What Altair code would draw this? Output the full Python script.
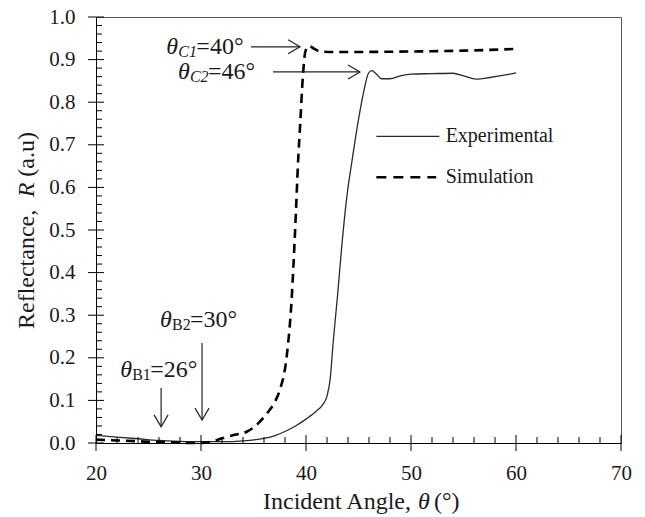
import altair as alt
import pandas as pd

# ---------------- data ----------------
exp_x = [20, 22, 24, 26, 28, 30, 32, 34, 36, 37, 38, 39, 40, 41, 41.6, 42.0, 42.3, 42.6,
         43.0, 43.4, 43.9, 44.4, 44.9, 45.5, 45.95, 46.25, 46.7, 47.2, 48.0, 49.0, 50.0,
         52.0, 54.0, 55.0, 56.2, 57.5, 59.0, 60.0]
exp_y = [0.018, 0.014, 0.010, 0.006, 0.004, 0.003, 0.003, 0.005, 0.011, 0.017, 0.027, 0.040,
         0.056, 0.075, 0.090, 0.110, 0.150, 0.240, 0.345, 0.460, 0.580, 0.665, 0.745, 0.825,
         0.868, 0.874, 0.866, 0.855, 0.855, 0.862, 0.866, 0.867, 0.868, 0.862, 0.854, 0.858,
         0.864, 0.869]

sim_x = [20, 22, 24, 26, 28, 29, 30, 31, 32, 33, 34.4, 35.4, 36.3, 37.0, 37.5, 38.16, 38.63,
         38.95, 39.27, 39.45, 39.7, 39.95, 40.3, 40.8, 41.4, 42.5, 45, 50, 55, 60]
sim_y = [0.008, 0.006, 0.004, 0.002, 0.001, 0.0, 0.0, 0.003, 0.011, 0.018, 0.027, 0.045, 0.070,
         0.095, 0.124, 0.203, 0.336, 0.492, 0.672, 0.750, 0.860, 0.920, 0.932, 0.925, 0.919,
         0.918, 0.918, 0.919, 0.921, 0.925]

x_ticks = [20, 30, 40, 50, 60, 70]
y_ticks = [0.0, 0.1, 0.2, 0.3, 0.4, 0.5, 0.6, 0.7, 0.8, 0.9, 1.0]
x_minor = [22, 24, 26, 28, 32, 34, 36, 38, 42, 44, 46, 48, 52, 54, 56, 58, 62, 64, 66, 68]
y_minor = [round(i * 0.02, 2) for i in range(51) if i % 5 != 0]

# annotations: label anchor (start of theta), subscript, value text
ann_x = [26.7, 27.8, 26.1, 22.3]
ann_y = [0.930, 0.871, 0.289, 0.171]
ann_sub = ["C1", "C2", "B2", "B1"]
ann_sub_italic = [True, True, False, False]
ann_val = ["=40°", "=46°", "=30°", "=26°"]

# arrows (start -> tip)
arr_x1 = [34.76, 36.86, 30.1, 26.2]
arr_x2 = [39.43, 45.14, 30.1, 26.2]
arr_y1 = [0.930, 0.871, 0.235, 0.129]
arr_y2 = [0.930, 0.871, 0.054, 0.038]
arr_dir = ["right", "right", "down", "down"]

# legend
leg_names = ["Experimental", "Simulation"]
leg_x1 = [46.7, 46.7]
leg_x2 = [52.7, 52.4]
leg_y = [0.720, 0.624]
leg_text_x = [53.3, 53.3]

# ---------------- chart ----------------
W, H = 525, 426
FONT = "Liberation Serif"
INK = "#1a1a1a"

xs = alt.Scale(domain=[20, 70], nice=False, zero=False)
ys = alt.Scale(domain=[0, 1], nice=False, zero=False)
xaxis = alt.Axis(values=x_ticks, format="d", ticks=False, tickSize=0, grid=False,
                 domainColor="black", domainWidth=1, labelFont=FONT, labelFontSize=21,
                 labelColor=INK, labelPadding=19, labelFlush=False)
yaxis = alt.Axis(values=y_ticks, format=".1f", ticks=False, tickSize=0, grid=False,
                 domainColor="black", domainWidth=1, labelFont=FONT, labelFontSize=21,
                 labelColor=INK, labelPadding=21, labelFlush=False)


def X(f):
    return alt.X(f, type="quantitative", scale=xs, axis=xaxis, title=None)


def Y(f):
    return alt.Y(f, type="quantitative", scale=ys, axis=yaxis, title=None)


exp_df = pd.DataFrame({"x": exp_x, "y": exp_y})
sim_df = pd.DataFrame({"x": sim_x, "y": sim_y})

exp_line = alt.Chart(exp_df).mark_line(color="#2a2a2a", strokeWidth=1.3, interpolate="monotone").encode(
    x=X("x"), y=Y("y"))
sim_line = alt.Chart(sim_df).mark_line(color="black", strokeWidth=2.6, strokeDash=[9, 6],
                                        interpolate="monotone").encode(x=X("x"), y=Y("y"))

# tick marks
ymaj = alt.Chart(pd.DataFrame({"y": y_ticks})).mark_rule(color="black", strokeWidth=1).encode(
    y=Y("y"), x=alt.value(-8), x2=alt.value(8))
ymin = alt.Chart(pd.DataFrame({"y": y_minor})).mark_rule(color="black", strokeWidth=1).encode(
    y=Y("y"), x=alt.value(0), x2=alt.value(6))
xmaj = alt.Chart(pd.DataFrame({"x": x_ticks})).mark_rule(color="black", strokeWidth=1).encode(
    x=X("x"), y=alt.value(H - 8), y2=alt.value(H + 8))
xmin = alt.Chart(pd.DataFrame({"x": x_minor})).mark_rule(color="black", strokeWidth=1).encode(
    x=X("x"), y=alt.value(H - 6), y2=alt.value(H))

# arrows
arr_df = pd.DataFrame({"x": arr_x1, "x2": arr_x2, "y": arr_y1, "y2": arr_y2, "dir": arr_dir})
arr_lines = alt.Chart(arr_df).mark_rule(color="#222", strokeWidth=1.2).encode(
    x=X("x"), x2="x2", y=Y("y"), y2="y2")
heads_r = alt.Chart(arr_df).transform_filter(alt.datum.dir == "right").mark_point(
    shape="M-1.7,-1L0,0L-1.7,1", filled=False, color="#222", strokeWidth=1.2, size=196, opacity=1
).encode(x=X("x2"), y=Y("y2"))
heads_d = alt.Chart(arr_df).transform_filter(alt.datum.dir == "down").mark_point(
    shape="M-1,-1.7L0,0L1,-1.7", filled=False, color="#222", strokeWidth=1.2, size=196, opacity=1
).encode(x=X("x2"), y=Y("y2"))

# annotation texts
ann_df = pd.DataFrame({"x": ann_x, "y": ann_y, "sub": ann_sub, "ital": ann_sub_italic, "val": ann_val})
t_theta = alt.Chart(ann_df).mark_text(align="left", baseline="middle", font=FONT, fontSize=24,
                                      fontStyle="italic", color=INK).encode(
    x=X("x"), y=Y("y"), text=alt.value("θ"))
t_sub_i = alt.Chart(ann_df).transform_filter(alt.datum.ital).mark_text(
    align="left", baseline="middle", font=FONT, fontSize=16, fontStyle="italic", color=INK, dx=12, dy=5
).encode(x=X("x"), y=Y("y"), text="sub:N")
t_sub_n = alt.Chart(ann_df).transform_filter(~alt.datum.ital).mark_text(
    align="left", baseline="middle", font=FONT, fontSize=16, color=INK, dx=12, dy=5
).encode(x=X("x"), y=Y("y"), text="sub:N")
t_val = alt.Chart(ann_df).mark_text(align="left", baseline="middle", font=FONT, fontSize=24,
                                    color=INK, dx=30).encode(x=X("x"), y=Y("y"), text="val:N")

# legend
leg_df = pd.DataFrame({"name": leg_names, "x": leg_x1, "x2": leg_x2, "y": leg_y, "tx": leg_text_x})
leg_solid = alt.Chart(leg_df).transform_filter(alt.datum.name == "Experimental").mark_rule(
    color="#2a2a2a", strokeWidth=1.3).encode(x=X("x"), x2="x2", y=Y("y"))
leg_dash = alt.Chart(leg_df).transform_filter(alt.datum.name == "Simulation").mark_rule(
    color="black", strokeWidth=2.6, strokeDash=[10, 7]).encode(x=X("x"), x2="x2", y=Y("y"))
leg_text = alt.Chart(leg_df).mark_text(align="left", baseline="middle", font=FONT, fontSize=20,
                                       color=INK).encode(x=X("tx"), y=Y("y"), text="name:N")

# axis titles (mixed italic)
one = pd.DataFrame({"k": [0]})
xt_y = H + 66
xt1 = alt.Chart(one).mark_text(align="right", baseline="alphabetic", font=FONT, fontSize=24, color=INK).encode(
    x=alt.value(315), y=alt.value(xt_y), text=alt.value("Incident Angle,"))
xt2 = alt.Chart(one).mark_text(align="center", baseline="alphabetic", font=FONT, fontSize=24,
                               fontStyle="italic", color=INK).encode(
    x=alt.value(328), y=alt.value(xt_y), text=alt.value("θ"))
xt3 = alt.Chart(one).mark_text(align="left", baseline="alphabetic", font=FONT, fontSize=24, color=INK).encode(
    x=alt.value(338), y=alt.value(xt_y), text=alt.value("(°)"))

yt_x = -69
yt1 = alt.Chart(one).mark_text(align="left", baseline="middle", font=FONT, fontSize=24, angle=270,
                               color=INK).encode(
    x=alt.value(yt_x), y=alt.value(312), text=alt.value("Reflectance,"))
yt2 = alt.Chart(one).mark_text(align="center", baseline="middle", font=FONT, fontSize=24, angle=270,
                               fontStyle="italic", color=INK).encode(
    x=alt.value(yt_x), y=alt.value(173), text=alt.value("R"))
yt3 = alt.Chart(one).mark_text(align="right", baseline="middle", font=FONT, fontSize=24, angle=270,
                               color=INK).encode(
    x=alt.value(yt_x), y=alt.value(115), text=alt.value("(a.u)"))

chart = alt.layer(
    exp_line, sim_line, ymaj, ymin, xmaj, xmin, arr_lines, heads_r, heads_d,
    t_theta, t_sub_i, t_sub_n, t_val, leg_solid, leg_dash, leg_text,
    xt1, xt2, xt3, yt1, yt2, yt3
).properties(
    width=W, height=H,
    padding={"left": 88, "top": 9, "right": 16, "bottom": 72},
    autosize=alt.AutoSizeParams(type="none"),
    background="white",
).configure_view(stroke="#555", strokeWidth=1)

chart.save("out.html", embed_options={"renderer": "svg", "actions": False})
